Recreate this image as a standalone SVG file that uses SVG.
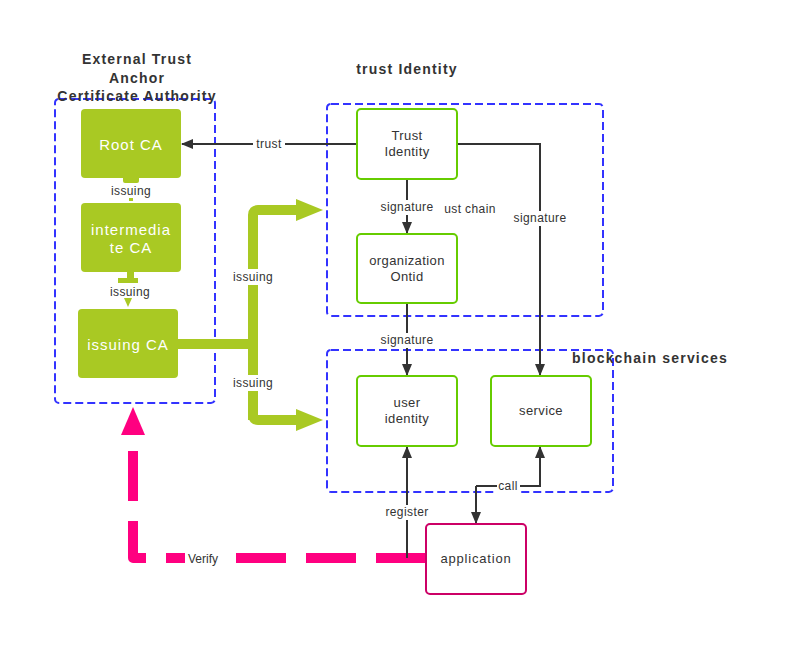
<svg xmlns="http://www.w3.org/2000/svg" width="792" height="656" viewBox="0 0 792 656">
<style>
text{font-family:"Liberation Sans",Arial,sans-serif;fill:#333;text-anchor:middle;dominant-baseline:central}
.title{font-size:14px;font-weight:bold;letter-spacing:1.2px}
.ca{fill:#a9c923;stroke:none}
.catxt{fill:#fff;font-size:15px;letter-spacing:1px}
.node{fill:#fff;stroke:#66cc00;stroke-width:2}
.ntxt{font-size:13px;letter-spacing:0.4px}
.lbl{font-size:12px;letter-spacing:0.4px}
.cont{fill:none;stroke:#3333ff;stroke-width:2;stroke-dasharray:8 4}
.conn{fill:none;stroke:#333;stroke-width:2}
.bg{fill:#fff}
</style>
<defs>
<marker id="ah" markerWidth="12" markerHeight="10" refX="11" refY="5" orient="auto" markerUnits="userSpaceOnUse">
<path d="M0,0 L12,5 L0,10 Z" fill="#333"/>
</marker>
</defs>
<rect width="792" height="656" fill="#fff"/>

<g id="containers">
<g id="external-trust-anchor">
<rect class="cont" x="55" y="99" width="160" height="304" rx="4"/>
<text class="title" x="137" y="59">External Trust</text>
<text class="title" x="137" y="78">Anchor</text>
<text class="title" x="137" y="96">Certificate Authority</text>
</g>
<g id="trust-identity-group">
<rect class="cont" x="327" y="104" width="276" height="212" rx="4"/>
<text class="title" x="407" y="69">trust Identity</text>
</g>
<g id="blockchain-services">
<rect class="cont" x="327" y="350" width="286" height="142" rx="4"/>
<text class="title" x="650" y="358">blockchain services</text>
</g>
</g>

<g id="connectors">
<!-- green issuing arrows -->
<path d="M178,344 H253 M253,420 V215 Q253,210 258,210 H298 M253,344 V415 Q253,420 258,420 H298" fill="none" stroke="#a9c923" stroke-width="10" stroke-linejoin="round"/>
<path d="M296,199 L323,210 L296,221 Z" fill="#a9c923"/>
<path d="M296,409 L323,420 L296,431 Z" fill="#a9c923"/>
<rect class="bg" x="228" y="269" width="50" height="16"/>
<text class="lbl" x="253" y="277">issuing</text>
<rect class="bg" x="228" y="375" width="50" height="16"/>
<text class="lbl" x="253" y="383">issuing</text>
<!-- root -> intermediate stub -->
<rect x="123" y="176" width="16" height="7" rx="2" fill="#a9c923"/>
<rect x="129" y="198" width="4" height="3" fill="#a9c923"/>
<text class="lbl" x="131" y="191">issuing</text>
<!-- intermediate -> issuing stub -->
<rect x="127" y="272" width="7" height="7" fill="#a9c923"/>
<rect x="118" y="278" width="20" height="5" fill="#a9c923"/>
<path d="M124,298 L132,298 L128,307 Z" fill="#a9c923"/>
<text class="lbl" x="130" y="292">issuing</text>
<!-- trust -> Root CA -->
<path class="conn" d="M357,144 H182" marker-end="url(#ah)"/>
<rect class="bg" x="253" y="137" width="32" height="14"/>
<text class="lbl" x="269" y="144">trust</text>
<!-- trust identity -> organization -->
<path class="conn" d="M407,179 V233" marker-end="url(#ah)"/>
<text class="lbl" x="470" y="209" text-anchor="middle">ust chain</text>
<rect class="bg" x="378" y="200" width="60" height="15"/>
<text class="lbl" x="407" y="207">signature</text>
<!-- trust identity -> service -->
<path class="conn" d="M457,144 H540 V375" marker-end="url(#ah)"/>
<rect class="bg" x="510" y="211" width="60" height="15"/>
<text class="lbl" x="540" y="218">signature</text>
<!-- organization -> user identity -->
<path class="conn" d="M407,303 V375" marker-end="url(#ah)"/>
<rect class="bg" x="377" y="333" width="60" height="15"/>
<text class="lbl" x="407" y="340">signature</text>
<!-- verify -->
<path d="M426,558 H133 V432" fill="none" stroke="#ff0080" stroke-width="10" stroke-dasharray="50 20" stroke-linejoin="round"/>
<path d="M121,435 L133,407 L145,435 Z" fill="#ff0080"/>
<rect class="bg" x="185" y="551" width="35" height="15"/>
<text class="lbl" x="203" y="559" style="letter-spacing:0">Verify</text>
<!-- register -->
<path class="conn" d="M407,558 V447" marker-end="url(#ah)"/>
<rect class="bg" x="380" y="505" width="54" height="15"/>
<text class="lbl" x="407" y="512">register</text>
<!-- call -->
<path class="conn" d="M476,486 V523" marker-end="url(#ah)"/>
<path class="conn" d="M476,486 H540 V447" marker-end="url(#ah)"/>
<rect class="bg" x="497" y="479" width="23" height="14"/>
<text class="lbl" x="508" y="486">call</text>
</g>

<g id="root-ca">
<rect class="ca" x="81" y="109" width="100" height="69" rx="4"/>
<text class="catxt" x="131" y="144">Root CA</text>
</g>
<g id="intermediate-ca">
<rect class="ca" x="81" y="203" width="100" height="69" rx="4"/>
<text class="catxt" x="131" y="229">intermedia</text>
<text class="catxt" x="131" y="247">te CA</text>
</g>
<g id="issuing-ca">
<rect class="ca" x="78" y="309" width="100" height="69" rx="4"/>
<text class="catxt" x="128" y="344">issuing CA</text>
</g>
<g id="trust-identity">
<rect class="node" x="357" y="109" width="100" height="70" rx="4"/>
<text class="ntxt" x="407" y="135">Trust</text>
<text class="ntxt" x="407" y="151">Identity</text>
</g>
<g id="organization-ontid">
<rect class="node" x="357" y="234" width="100" height="69" rx="4"/>
<text class="ntxt" x="407" y="260">organization</text>
<text class="ntxt" x="407" y="276">Ontid</text>
</g>
<g id="user-identity">
<rect class="node" x="357" y="376" width="100" height="70" rx="4"/>
<text class="ntxt" x="407" y="402">user</text>
<text class="ntxt" x="407" y="418">identity</text>
</g>
<g id="service">
<rect class="node" x="491" y="376" width="100" height="70" rx="4"/>
<text class="ntxt" x="541" y="410">service</text>
</g>
<g id="application">
<rect x="426" y="524" width="100" height="70" rx="4" fill="#fff" stroke="#cc0066" stroke-width="2"/>
<text class="ntxt" x="476" y="558" style="letter-spacing:0.8px">application</text>
</g>
</svg>
